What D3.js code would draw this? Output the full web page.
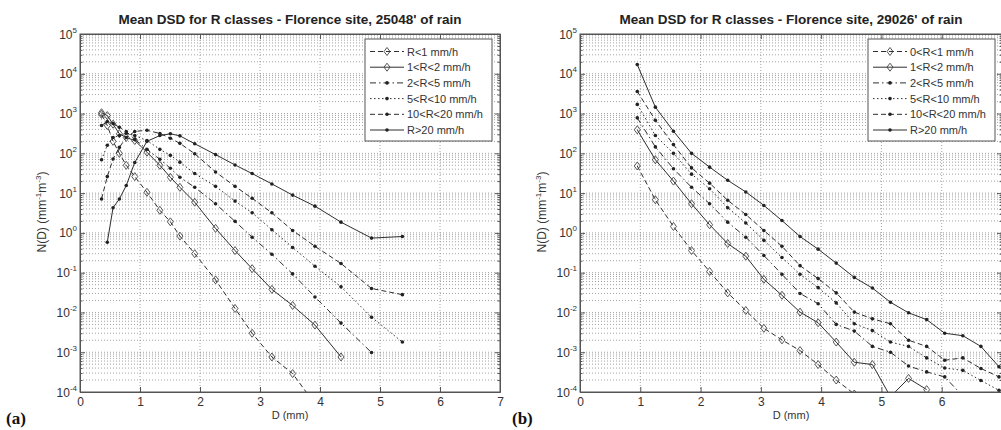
<!DOCTYPE html>
<html lang="en">
<head>
<meta charset="utf-8">
<title>Mean DSD for R classes - Florence site</title>
<script src="https://d3js.org/d3.v7.min.js"></script>
<style>
  body { margin: 0; background: #fff; }
  svg { font-family: 'Liberation Sans', Arial, sans-serif; }
  .grid line { stroke: #8c8c8c; stroke-width: 0.8px; stroke-dasharray: 1,2; }
  .axis path, .axis line { stroke: #555; }
  .axis text { font-size: 12px; fill: #333; font-family: 'Liberation Sans', Arial, sans-serif; }
  .series { fill: none; stroke: #2e2e2e; stroke-width: 1px; }
  .legend text { font-size: 11px; fill: #333; }
</style>
</head>
<body>
<div id="chart"></div>
<script>
// drop diameter classes (mm)
var D_a = [0.359, 0.455, 0.551, 0.656, 0.771, 0.913, 1.116, 1.331, 1.506, 1.665,
           1.912, 2.259, 2.584, 2.869, 3.198, 3.544, 3.916, 4.350, 4.859, 5.373];
var D_b = [0.95, 1.25, 1.55, 1.85, 2.15, 2.45, 2.75, 3.05, 3.35, 3.65, 3.95,
           4.25, 4.55, 4.85, 5.15, 5.45, 5.75, 6.05, 6.35, 6.65, 6.95];

var labels_a = ["R<1 mm/h", "1<R<2 mm/h", "2<R<5 mm/h", "5<R<10 mm/h", "10<R<20 mm/h", "R>20 mm/h"];
var labels_b = ["0<R<1 mm/h", "1<R<2 mm/h", "2<R<5 mm/h", "5<R<10 mm/h", "10<R<20 mm/h", "R>20 mm/h"];

// (a) 25048' of rain, N(D) in mm^-1 m^-3
var a_R1   = [950, 500, 200, 100, 50, 26, 10.5, 3.7, 1.9, 0.83, 0.30, 0.066, 0.0126, 0.0030, 7.6e-4, 2.9e-4, 5e-5, null, null, null];
var a_R2   = [1050, 890, 540, 310, 250, 210, 107, 50, 25, 14, 5.9, 1.3, 0.36, 0.126, 0.038, 0.015, 0.0048, 7.6e-4, null, null];
var a_R5   = [500, 630, 560, 450, 355, 224, 126, 71, 42, 25, 14, 5.4, 1.95, 0.78, 0.29, 0.093, 0.0245, 0.0054, 9.8e-4, null];
var a_R10  = [69, 160, 250, 280, 320, 280, 210, 126, 89, 60, 31, 14.8, 6.3, 3.2, 1.2, 0.43, 0.145, 0.044, 0.0076, 0.0018];
var a_R20  = [7.1, 26, 72, 141, 250, 355, 380, 316, 240, 178, 98, 34, 14.8, 7.4, 3.2, 1.15, 0.46, 0.17, 0.040, 0.028];
var a_Rmax = [null, 0.58, 4.3, 7.1, 15.5, 59, 200, 280, 310, 275, 174, 93, 51, 31, 17, 8.9, 4.7, 1.86, 0.74, 0.81];

// (b) 29026' of rain
var b_R1   = [48, 6.8, 1.45, 0.36, 0.107, 0.031, 0.0112, 0.0040, 0.00204, 0.0011, 4.9e-4, 2.0e-4, 8.9e-5];
var b_R2   = [390, 69, 20, 5.4, 1.6, 0.54, 0.26, 0.068, 0.027, 0.0102, 0.0055, 0.0018, 5.6e-4, 4.9e-4, 7.6e-5, 2.2e-4, 1.15e-4];
var b_R5   = [780, 145, 41, 14, 5.4, 1.86, 0.78, 0.27, 0.091, 0.030, 0.0166, 0.0050, 0.0034, 0.0014, 0.0010, 4.5e-4, 3.2e-4, 2.4e-4, 7.9e-5];
var b_R10  = [1700, 280, 100, 30, 12.9, 4.3, 1.78, 0.65, 0.24, 0.091, 0.042, 0.0174, 0.0052, 0.0035, 0.0018, 0.0014, 7.2e-4, 4.0e-4, 3.5e-4, 1.95e-4, 1.1e-4];
var b_R20  = [3600, 680, 166, 43, 17.8, 6.6, 2.9, 1.15, 0.46, 0.15, 0.071, 0.031, 0.0102, 0.0069, 0.0052, 0.0020, 0.0014, 6.3e-4, 7.2e-4, 3.9e-4, 2.4e-4];
var b_Rmax = [17000, 1450, 360, 100, 45, 21, 10.7, 4.9, 2.04, 0.81, 0.39, 0.174, 0.076, 0.041, 0.018, 0.0098, 0.0066, 0.0030, 0.0026, 0.0014, 4.3e-4];

var xTicks = [0, 1, 2, 3, 4, 5, 6, 7];
var xLabels_a = [0, 1, 2, 3, 4, 5, 6, 7];
var xLabels_b = [0, 1, 2, 3, 4, 5, 6];   // 7 falls outside the cropped figure
var decades = [-4, -3, -2, -1, 0, 1, 2, 3, 4, 5];

// line style per class (MATLAB-like)
var styles = [
  {dash: "5,3", marker: "diamond"},
  {dash: null, marker: "diamond"},
  {dash: "6,3,1.5,3", marker: "dot"},
  {dash: "1.5,2.5", marker: "dot"},
  {dash: "5,3", marker: "dot"},
  {dash: null, marker: "dot"}
];

var plotTop = 34, plotBottom = 392;

var svg = d3.select("#chart").append("svg")
  .attr("width", 1001)
  .attr("height", 430);

function drawMarker(g, type, cx, cy) {
  if (type === "diamond") {
    g.append("path")
      .attr("d", "M" + cx + "," + (cy - 4) + "L" + (cx + 3) + "," + cy + "L" + cx + "," + (cy + 4) + "L" + (cx - 3) + "," + cy + "Z")
      .attr("fill", "none").attr("stroke", "#444").attr("stroke-width", 0.9);
  } else {
    g.append("circle").attr("cx", cx).attr("cy", cy).attr("r", 1.8).attr("fill", "#222");
  }
}

function drawPanel(cfg) {
  var x = d3.scaleLinear().domain([0, 7]).range([cfg.left, cfg.left + cfg.width]);
  var y = d3.scaleLog().domain([1e-4, 1e5]).range([plotBottom, plotTop]);
  var g = svg.append("g");

  // grid
  var grid = g.append("g").attr("class", "grid");
  grid.selectAll(".hg")
    .data(y.ticks().filter(function(v) { return v > 1.0001e-4 && v < 0.9999e5; }))
    .enter().append("line")
    .attr("x1", x(0)).attr("x2", x(7))
    .attr("y1", function(d) { return y(d); }).attr("y2", function(d) { return y(d); });
  grid.selectAll(".vg")
    .data([1, 2, 3, 4, 5, 6])
    .enter().append("line")
    .attr("x1", function(d) { return x(d); }).attr("x2", function(d) { return x(d); })
    .attr("y1", plotTop).attr("y2", plotBottom);

  // clip
  var clipId = "clip" + cfg.tag;
  g.append("clipPath").attr("id", clipId).append("rect")
    .attr("x", x(0)).attr("y", plotTop)
    .attr("width", cfg.width).attr("height", plotBottom - plotTop);

  var plot = g.append("g").attr("clip-path", "url(#" + clipId + ")");

  cfg.series.forEach(function(vals, i) {
    var pts = vals.map(function(v, k) { return [cfg.D[k], v]; })
                  .filter(function(p) { return p[1] != null; });
    var line = d3.line()
      .x(function(p) { return x(p[0]); })
      .y(function(p) { return y(p[1]); });
    var path = plot.append("path").datum(pts)
      .attr("class", "series")
      .attr("d", line);
    if (styles[i].dash) path.attr("stroke-dasharray", styles[i].dash);
    pts.forEach(function(p) { drawMarker(plot, styles[i].marker, x(p[0]), y(p[1])); });
  });

  // axes (ticks inside, box on)
  var minors = y.ticks().filter(function(v) {
    var l = Math.log10(v); return Math.abs(l - Math.round(l)) > 1e-6;
  });
  var majors = decades.map(function(e) { return Math.pow(10, e); });

  g.append("g").attr("class", "axis").attr("transform", "translate(0," + plotBottom + ")")
    .call(d3.axisBottom(x).tickValues(xTicks).tickSizeInner(-5).tickSizeOuter(0).tickPadding(5)
      .tickFormat(function(d) { return cfg.xLabels.indexOf(d) >= 0 ? d3.format("d")(d) : ""; }));
  g.append("g").attr("class", "axis").attr("transform", "translate(0," + plotTop + ")")
    .call(d3.axisTop(x).tickValues(xTicks).tickSizeInner(-5).tickSizeOuter(0).tickFormat(""));

  var yl = g.append("g").attr("class", "axis").attr("transform", "translate(" + x(0) + ",0)")
    .call(d3.axisLeft(y).tickValues(majors).tickSizeInner(-5).tickSizeOuter(0).tickFormat(""));
  g.append("g").attr("class", "axis").attr("transform", "translate(" + x(0) + ",0)")
    .call(d3.axisLeft(y).tickValues(minors).tickSizeInner(-2.5).tickSizeOuter(0).tickFormat(""))
    .select(".domain").remove();
  g.append("g").attr("class", "axis").attr("transform", "translate(" + x(7) + ",0)")
    .call(d3.axisRight(y).tickValues(majors).tickSizeInner(-5).tickSizeOuter(0).tickFormat(""));
  g.append("g").attr("class", "axis").attr("transform", "translate(" + x(7) + ",0)")
    .call(d3.axisRight(y).tickValues(minors).tickSizeInner(-2.5).tickSizeOuter(0).tickFormat(""))
    .select(".domain").remove();

  // decade labels 10^e
  yl.selectAll(".tick").each(function(d) {
    var e = Math.round(Math.log10(d));
    var t = d3.select(this).append("text")
      .attr("x", -3).attr("y", 4)
      .attr("text-anchor", "end")
      .style("font-size", "12px");
    t.append("tspan").text("10");
    t.append("tspan").attr("dy", -6).style("font-size", "8px").text(e);
  });

  // frame
  g.append("rect")
    .attr("x", x(0)).attr("y", plotTop)
    .attr("width", cfg.width).attr("height", plotBottom - plotTop)
    .attr("fill", "none").attr("stroke", "#555").attr("stroke-width", 1);

  // title
  g.append("text")
    .attr("x", x(3.5)).attr("y", 24)
    .attr("text-anchor", "middle")
    .style("font-size", "13.5px").style("font-weight", "bold").style("fill", "#222")
    .text(cfg.title);

  // axis labels
  g.append("text")
    .attr("x", x(3.5)).attr("y", 419)
    .attr("text-anchor", "middle")
    .style("font-size", "11px").style("fill", "#333")
    .text("D (mm)");

  var yt = g.append("text")
    .attr("transform", "translate(" + (x(0) - 34) + ",212) rotate(-90)")
    .attr("text-anchor", "middle")
    .style("font-size", "12px").style("fill", "#333");
  yt.append("tspan").text("N(D) (mm");
  yt.append("tspan").attr("dy", -5).style("font-size", "8px").text("-1");
  yt.append("tspan").attr("dy", 5).text("m");
  yt.append("tspan").attr("dy", -5).style("font-size", "8px").text("-3");
  yt.append("tspan").attr("dy", 5).text(")");

  // panel tag
  svg.append("text")
    .attr("x", cfg.tagX).attr("y", 424)
    .style("font-family", "'Liberation Serif', 'Times New Roman', serif")
    .style("font-size", "17px").style("font-weight", "bold").style("fill", "#111")
    .text("(" + cfg.tag + ")");

  // legend
  var lx = cfg.legendX, ly = 39, lw = 127, lh = 102;
  var lg = g.append("g").attr("class", "legend");
  lg.append("rect").attr("x", lx).attr("y", ly).attr("width", lw).attr("height", lh)
    .attr("fill", "#fff").attr("stroke", "#555").attr("stroke-width", 1);
  cfg.labels.forEach(function(lab, i) {
    var yy = ly + 12.5 + i * 15.7;
    var ln = lg.append("line")
      .attr("x1", lx + 5).attr("x2", lx + 39)
      .attr("y1", yy).attr("y2", yy)
      .attr("stroke", "#2e2e2e").attr("stroke-width", 1);
    if (styles[i].dash) ln.attr("stroke-dasharray", styles[i].dash);
    drawMarker(lg, styles[i].marker, lx + 22, yy);
    lg.append("text").attr("x", lx + 42).attr("y", yy + 4).text(lab);
  });
}

drawPanel({
  left: 80, width: 420, D: D_a, xLabels: xLabels_a,
  series: [a_R1, a_R2, a_R5, a_R10, a_R20, a_Rmax],
  labels: labels_a,
  title: "Mean DSD for R classes - Florence site, 25048' of rain",
  tag: "a", tagX: 6, legendX: 365
});

drawPanel({
  left: 580, width: 422, D: D_b, xLabels: xLabels_b,
  series: [b_R1, b_R2, b_R5, b_R10, b_R20, b_Rmax],
  labels: labels_b,
  title: "Mean DSD for R classes - Florence site, 29026' of rain",
  tag: "b", tagX: 512, legendX: 868
});
</script>
</body>
</html>
